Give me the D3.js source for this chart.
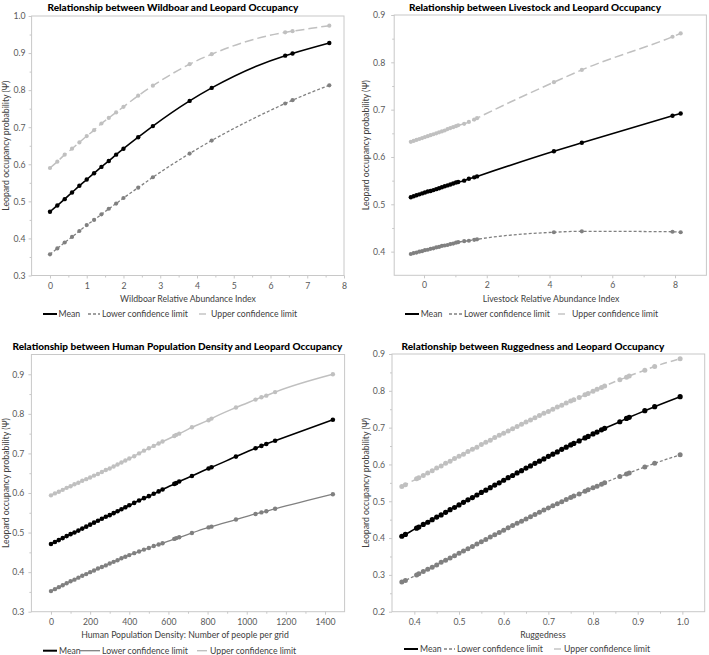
<!DOCTYPE html>
<html><head><meta charset="utf-8">
<script src="https://cdn.jsdelivr.net/npm/d3@7"></script>
<style>
body{margin:0;background:#fff}
text{font-family:Lato,"Open Sans",sans-serif}
</style>
</head><body>
<svg id="c" width="709" height="655"></svg>
<script>
// ---------- DATA ----------
// Panel 1: Wildboar
const wildX = [0,0.2,0.4,0.6,0.8,1.0,1.2,1.4,1.6,1.8,2.0,2.4,2.8,3.8,4.4,6.4,6.6,7.6];
const wildMean = [0.472,0.489,0.506,0.524,0.542,0.559,0.576,0.593,0.609,0.626,0.642,0.673,0.703,0.771,0.806,0.893,0.899,0.927];
const wildLower = [0.357,0.373,0.389,0.404,0.420,0.436,0.450,0.465,0.480,0.494,0.509,0.537,0.565,0.629,0.664,0.764,0.773,0.813];
const wildUpper = [0.590,0.607,0.626,0.642,0.659,0.676,0.692,0.710,0.725,0.740,0.755,0.785,0.812,0.870,0.897,0.956,0.959,0.974];
const wildXTicks = [0,1,2,3,4,5,6,7,8];
const wildYTicks = [0.3,0.4,0.5,0.6,0.7,0.8,0.9,1.0];

// Panel 2: Livestock
const liveX = [-0.42,-0.33,-0.24,-0.15,-0.06,0.03,0.12,0.21,0.30,0.39,0.48,0.57,0.66,0.75,0.84,0.93,1.02,1.09,1.28,1.43,1.60,1.69,4.14,5.03,7.92,8.18];
const liveMean = [0.515,0.517,0.519,0.521,0.523,0.525,0.527,0.528,0.530,0.532,0.534,0.536,0.538,0.540,0.542,0.544,0.546,0.547,0.550,0.554,0.557,0.559,0.612,0.630,0.687,0.692];
const liveLower = [0.395,0.397,0.398,0.400,0.401,0.403,0.404,0.406,0.407,0.409,0.410,0.412,0.413,0.414,0.416,0.417,0.419,0.420,0.422,0.423,0.425,0.426,0.441,0.443,0.442,0.441];
const liveUpper = [0.632,0.634,0.636,0.638,0.640,0.642,0.644,0.646,0.648,0.650,0.652,0.654,0.656,0.659,0.661,0.663,0.665,0.667,0.670,0.674,0.679,0.682,0.758,0.784,0.854,0.861];
const liveXTicks = [0,2,4,6,8];
const liveYTicks = [0.4,0.5,0.6,0.7,0.8,0.9];

// Panel 3: Human population density
const humanX = [0,20,40,60,80,100,120,140,160,180,200,220,240,260,280,300,320,340,360,380,400,425,450,475,500,525,550,570,630,640,655,720,805,820,945,1045,1075,1100,1145,1440];
const humanMean = [0.471,0.476,0.481,0.486,0.491,0.496,0.500,0.505,0.510,0.515,0.520,0.525,0.530,0.535,0.540,0.544,0.549,0.554,0.559,0.564,0.569,0.575,0.581,0.587,0.592,0.598,0.604,0.609,0.623,0.625,0.629,0.643,0.662,0.665,0.692,0.713,0.719,0.724,0.732,0.785];
const humanLower = [0.352,0.357,0.362,0.367,0.372,0.377,0.381,0.386,0.391,0.395,0.400,0.404,0.409,0.413,0.417,0.422,0.426,0.430,0.435,0.439,0.443,0.448,0.452,0.457,0.461,0.466,0.470,0.473,0.484,0.486,0.488,0.499,0.513,0.515,0.533,0.547,0.551,0.554,0.560,0.597];
const humanUpper = [0.594,0.599,0.603,0.608,0.613,0.617,0.622,0.626,0.631,0.635,0.639,0.644,0.648,0.653,0.658,0.662,0.667,0.672,0.677,0.682,0.687,0.693,0.700,0.707,0.713,0.719,0.725,0.730,0.744,0.747,0.750,0.766,0.784,0.788,0.816,0.836,0.842,0.846,0.855,0.900];
const humanXTicks = [0,200,400,600,800,1000,1200,1400];
const humanYTicks = [0.3,0.4,0.5,0.6,0.7,0.8,0.9];

// Panel 4: Ruggedness
const rugX = [0.372,0.38,0.405,0.41,0.42,0.43,0.44,0.45,0.46,0.47,0.48,0.49,0.50,0.51,0.52,0.53,0.54,0.55,0.56,0.57,0.58,0.59,0.60,0.61,0.62,0.63,0.64,0.65,0.66,0.67,0.68,0.69,0.70,0.71,0.72,0.73,0.74,0.75,0.757,0.769,0.782,0.789,0.80,0.809,0.819,0.826,0.86,0.875,0.881,0.916,0.938,0.995];
const rugMean = [0.405,0.410,0.427,0.430,0.437,0.443,0.450,0.457,0.463,0.470,0.477,0.483,0.490,0.497,0.504,0.510,0.517,0.524,0.530,0.537,0.544,0.550,0.557,0.564,0.570,0.577,0.583,0.590,0.596,0.603,0.609,0.615,0.622,0.628,0.634,0.641,0.647,0.653,0.657,0.664,0.672,0.676,0.683,0.688,0.694,0.698,0.716,0.725,0.728,0.746,0.757,0.784];
const rugLower = [0.281,0.285,0.300,0.303,0.309,0.315,0.321,0.327,0.334,0.340,0.346,0.352,0.359,0.365,0.371,0.377,0.384,0.390,0.396,0.403,0.409,0.415,0.421,0.428,0.434,0.440,0.446,0.452,0.458,0.464,0.470,0.476,0.482,0.488,0.493,0.499,0.505,0.510,0.514,0.520,0.527,0.531,0.537,0.541,0.546,0.550,0.567,0.574,0.577,0.593,0.603,0.626];
const rugUpper = [0.540,0.545,0.561,0.564,0.570,0.577,0.583,0.590,0.596,0.603,0.609,0.616,0.622,0.628,0.635,0.641,0.647,0.654,0.660,0.666,0.673,0.679,0.685,0.691,0.697,0.703,0.709,0.715,0.721,0.727,0.733,0.739,0.744,0.750,0.756,0.761,0.767,0.772,0.776,0.782,0.789,0.793,0.799,0.804,0.809,0.813,0.830,0.837,0.840,0.856,0.866,0.887];
const rugXTicks = [0.4,0.5,0.6,0.7,0.8,0.9,1.0];
const rugYTicks = [0.2,0.3,0.4,0.5,0.6,0.7,0.8,0.9];

const legendLabels = ["Mean","Lower confidence limit","Upper confidence limit"];
const yAxisTitle = "Leopard occupancy probability (\u03A8)";

// ---------- DRAW ----------
const svg = d3.select('#c');
const C = {mean:'#000000', lower:'#808080', upper:'#c0c0c0', axis:'#c8c8c8', tick:'#595959', label:'#404040'};

function midpoints(t){const m=[];for(let i=0;i<t.length-1;i++)m.push((t[i]+t[i+1])/2);return m;}

function panel(p){
  const g = svg.append('g');
  const x = d3.scaleLinear().domain(p.xDomain).range(p.xRange);
  const y = d3.scaleLinear().domain(p.yDomain).range(p.yRange);
  const [x0,x1] = p.xRange, [y0,y1] = p.yRange;
  g.append('rect').attr('x',x0).attr('y',y1).attr('width',x1-x0).attr('height',y0-y1)
    .attr('fill','none').attr('stroke',C.axis).attr('stroke-width',1);
  const yAx = g.append('g').attr('transform',`translate(${x0},0)`)
    .call(d3.axisLeft(y).tickValues(p.yTicks).tickSize(3).tickPadding(p.yPad).tickFormat(d3.format('.1f')));
  const yMin = g.append('g').attr('transform',`translate(${x0},0)`)
    .call(d3.axisLeft(y).tickValues(midpoints(p.yTicks)).tickSize(2).tickFormat(''));
  const xAx = g.append('g').attr('transform',`translate(0,${y0})`)
    .call(d3.axisBottom(x).tickValues(p.xTicks).tickSize(3).tickPadding(4).tickFormat(p.xFmt));
  const xMin = g.append('g').attr('transform',`translate(0,${y0})`)
    .call(d3.axisBottom(x).tickValues(midpoints(p.xTicks)).tickSize(2).tickFormat(''));
  [yAx,yMin,xAx,xMin].forEach(a=>{
    a.select('.domain').remove();
    a.selectAll('line').attr('stroke',C.axis);
    a.selectAll('text').attr('fill',C.tick).style('font-size','8.7px').style('font-family','Lato,"Open Sans",sans-serif');
  });
  const series = [
    {k:'upper', v:p.upper, dash:p.upperDash, w:1.5, r:p.r},
    {k:'lower', v:p.lower, dash:p.lowerDash, w:1.3, r:p.r},
    {k:'mean',  v:p.mean,  dash:null, w:1.6, r:p.r+0.1}
  ];
  const lineGen = d3.line().curve(d3.curveMonotoneX).x(d=>x(d[0])).y(d=>y(d[1]));
  series.forEach(s=>{
    const pts = p.xs.map((xv,i)=>[xv,s.v[i]]);
    g.append('path').datum(pts).attr('d', lineGen)
      .attr('fill','none').attr('stroke',C[s.k]).attr('stroke-width',s.w)
      .attr('stroke-dasharray', s.dash);
    g.append('g').selectAll('circle').data(pts).join('circle')
      .attr('cx',d=>x(d[0])).attr('cy',d=>y(d[1])).attr('r',s.r).attr('fill',C[s.k]);
  });
  g.append('text').attr('x',p.titleX).attr('y',p.titleY).attr('text-anchor','middle')
    .style('font-weight','900').style('font-size','10px').attr('fill','#000').text(p.title);
  g.append('text').attr('x',p.xLabelX).attr('y',p.xLabelY).attr('text-anchor','middle')
    .style('font-size','8.7px').attr('fill',C.label).text(p.xLabel);
  g.append('text').attr('transform',`translate(${p.yLabelX},${(y0+y1)/2}) rotate(-90)`)
    .attr('text-anchor','middle').style('font-size','8.7px').attr('fill',C.label).text(yAxisTitle);
  const L = p.legend;
  const items = [
    {k:'mean', dash:null, w:2, seg:L.mean},
    {k:'lower', dash:p.legendLowerDash, w:1.3, seg:L.lower},
    {k:'upper', dash:null, w:1.4, seg:L.upper}
  ];
  items.forEach((it,i)=>{
    g.append('line').attr('x1',it.seg[0]).attr('x2',it.seg[1]).attr('y1',L.y).attr('y2',L.y)
      .attr('stroke',C[it.k]).attr('stroke-width',it.w).attr('stroke-dasharray',it.dash);
    g.append('text').attr('x',it.seg[2]).attr('y',L.y+3).style('font-size','8.7px')
      .attr('fill',C.label).text(legendLabels[i]);
  });
}

panel({
  xDomain:[-0.5,8], xRange:[31.6,344], yDomain:[0.3,1.0], yRange:[275.5,16],
  xTicks:wildXTicks, yTicks:wildYTicks, xFmt:d3.format('d'), yPad:3, r:2.1,
  xs:wildX, mean:wildMean, lower:wildLower, upper:wildUpper,
  lowerDash:'3,2', upperDash:'9,4', legendLowerDash:'3,2',
  title:'Relationship between Wildboar and Leopard Occupancy', titleX:173, titleY:11,
  xLabel:'Wildboar Relative Abundance Index', xLabelX:188, xLabelY:302, yLabelX:8.5,
  legend:{y:314, mean:[43,57,58.5], lower:[88,100,102], upper:[199,206,211]}
});
panel({
  xDomain:[-0.95,9], xRange:[394.2,706.4], yDomain:[0.35,0.9], yRange:[275.3,15],
  xTicks:liveXTicks, yTicks:liveYTicks, xFmt:d3.format('d'), yPad:6, r:2.1,
  xs:liveX, mean:liveMean, lower:liveLower, upper:liveUpper,
  lowerDash:'3,2', upperDash:'9,4', legendLowerDash:'3,2',
  title:'Relationship between Livestock and Leopard Occupancy', titleX:535, titleY:11,
  xLabel:'Livestock Relative Abundance Index', xLabelX:551, xLabelY:302, yLabelX:369,
  legend:{y:314, mean:[405,419,420.7], lower:[449,462,464], upper:[558,565,572]}
});
panel({
  xDomain:[-100,1500], xRange:[31.4,344.6], yDomain:[0.3,0.95], yRange:[611.7,354.5],
  xTicks:humanXTicks, yTicks:humanYTicks, xFmt:d3.format('d'), yPad:4, r:2.2,
  xs:humanX, mean:humanMean, lower:humanLower, upper:humanUpper,
  lowerDash:null, upperDash:null, legendLowerDash:null,
  title:'Relationship between Human Population Density and Leopard Occupancy', titleX:177.5, titleY:350,
  xLabel:'Human Population Density: Number of people per grid', xLabelX:185, xLabelY:638, yLabelX:8.5,
  legend:{y:650.7, mean:[43,57,59], lower:[80,100,102], upper:[197,207,210]}
});
panel({
  xDomain:[0.35,1.05], xRange:[392,704.7], yDomain:[0.2,0.9], yRange:[611.7,354],
  xTicks:rugXTicks, yTicks:rugYTicks, xFmt:d3.format('.1f'), yPad:4, r:2.5,
  xs:rugX, mean:rugMean, lower:rugLower, upper:rugUpper,
  lowerDash:'3,2', upperDash:'7,4', legendLowerDash:'3,2',
  title:'Relationship between Ruggedness and Leopard Occupancy', titleX:533, titleY:350,
  xLabel:'Ruggedness', xLabelX:543, xLabelY:638, yLabelX:369,
  legend:{y:649, mean:[404,418,420], lower:[444,455,457], upper:[554,561,564]}
});
</script>
</body></html>
